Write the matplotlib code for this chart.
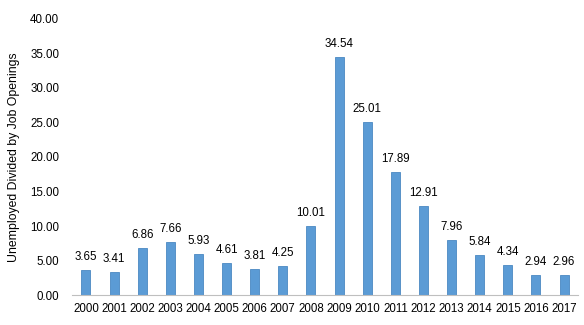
import matplotlib
matplotlib.use("Agg")
import matplotlib.pyplot as plt
import numpy as np

years = [str(y) for y in range(2000, 2018)]
ratio = [3.65, 3.41, 6.86, 7.66, 5.93, 4.61, 3.81, 4.25, 10.01, 34.54,
         25.01, 17.89, 12.91, 7.96, 5.84, 4.34, 2.94, 2.96]

plt.rcParams["font.family"] = ["Liberation Sans", "DejaVu Sans"]
TXT = "#000000"

fig = plt.figure(figsize=(5.84, 3.25), dpi=100)
ax = fig.add_axes([0.123, 0.092, 0.867, 0.85])

x = np.arange(len(years))
ax.bar(x, ratio, width=0.32, color="#5B9BD5", edgecolor="#4A88C2", linewidth=0.6, zorder=2)
for xi, v in zip(x, ratio):
    ax.text(xi, v + 1.0, f"{v:.2f}", ha="center", va="bottom", fontsize=8.3, color=TXT)

ax.set_xlim(-0.5, len(years) - 0.5)
ax.set_ylim(0, 40)
ax.set_yticks(np.arange(0, 40.1, 5))
ax.set_yticklabels([f"{t:.2f}" for t in np.arange(0, 40.1, 5)])
ax.set_xticks(x)
ax.set_xticklabels(years)
ax.tick_params(axis="both", length=0, labelsize=8.3, colors=TXT)
ax.tick_params(axis="x", pad=6)
ax.tick_params(axis="y", pad=9)
ax.set_ylabel("Unemployed Divided by Job Openings", fontsize=8.8, color=TXT, labelpad=7)

for s in ("top", "right", "left"):
    ax.spines[s].set_visible(False)
ax.spines["bottom"].set_color("#BFBFBF")
ax.spines["bottom"].set_linewidth(0.8)

fig.savefig("out.png", dpi=100)
